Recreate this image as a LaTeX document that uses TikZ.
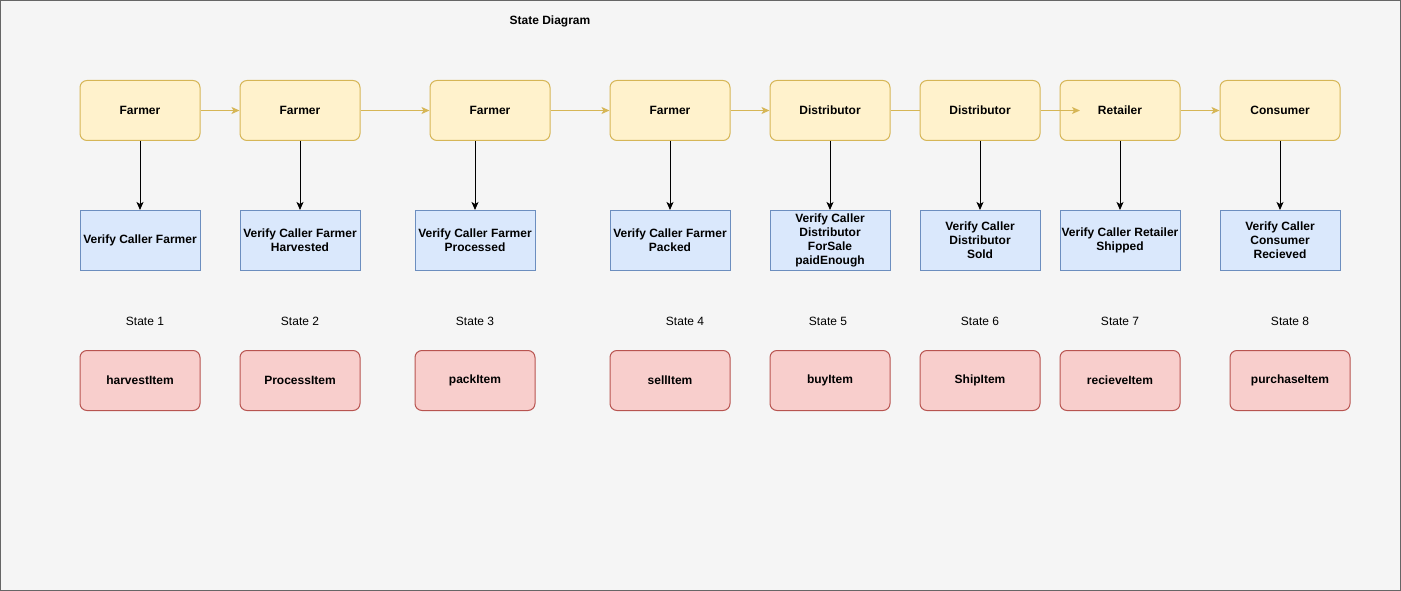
\documentclass[tikz,border=0pt]{standalone}
\usepackage{fontspec}
\setmainfont{Liberation Sans}
\usetikzlibrary{arrows.meta}
\definecolor{bggray}{HTML}{F5F5F5}
\definecolor{framegray}{HTML}{666666}
\definecolor{roleFill}{HTML}{FFF2CC}
\definecolor{roleLine}{HTML}{D6B656}
\definecolor{checkFill}{HTML}{DAE8FC}
\definecolor{checkLine}{HTML}{6C8EBF}
\definecolor{funcFill}{HTML}{F8CECC}
\definecolor{funcLine}{HTML}{B85450}
\begin{document}
\begin{tikzpicture}[x=1pt, y=-1pt, >={Stealth[length=8pt,width=7pt,inset=2pt]},
	role/.style={draw=roleLine, fill=roleFill, rounded corners=7pt, line width=1pt, minimum width=120pt, minimum height=60pt, font=\fontsize{12}{14}\selectfont\bfseries},
	check/.style={draw=checkLine, fill=checkFill, line width=1pt, minimum width=120pt, minimum height=60pt, inner sep=1pt, align=center, font=\fontsize{12}{14}\selectfont\bfseries},
	func/.style={draw=funcLine, fill=funcFill, rounded corners=7pt, line width=1pt, minimum width=120pt, minimum height=60pt, font=\fontsize{12}{14}\selectfont\bfseries},
	statelbl/.style={font=\fontsize{12}{14}\selectfont},
	flow/.style={->, roleLine, line width=1pt},
	verify/.style={->, black, line width=1pt}]
		
		\useasboundingbox (0,0) rectangle (1401,591);
		\filldraw[fill=bggray, draw=framegray, line width=1pt] (0.5,0.5) rectangle (1400.5,590.5);
		
		\node[font=\fontsize{12}{14}\selectfont\bfseries] (T) at (550,21) {State Diagram};
		
		% actors
		\node[role] (Y1) at (140,110.5) {Farmer};
		\node[role] (Y2) at (300,110.5) {Farmer};
		\node[role] (Y3) at (490,110.5) {Farmer};
		\node[role] (Y4) at (670,110.5) {Farmer};
		\node[role] (Y5) at (830,110.5) {Distributor};
		\node[role] (Y6) at (980,110.5) {Distributor};
		\node[role] (Y7) at (1120,110.5) {Retailer};
		\node[role] (Y8) at (1280,110.5) {Consumer};
		\coordinate (y7in) at (1080,110.5);
		
		% checks
		\node[check] (V1) at (140,240.5) {Verify Caller Farmer};
		\node[check] (V2) at (300,240.5) {Verify Caller Farmer\\Harvested};
		\node[check] (V3) at (475,240.5) {Verify Caller Farmer\\Processed};
		\node[check] (V4) at (670,240.5) {Verify Caller Farmer\\Packed};
		\node[check] (V5) at (830,240.5) {Verify Caller\\Distributor\\ForSale\\paidEnough};
		\node[check] (V6) at (980,240.5) {Verify Caller\\Distributor\\Sold};
		\node[check] (V7) at (1120,240.5) {Verify Caller Retailer\\Shipped};
		\node[check] (V8) at (1280,240.5) {Verify Caller\\Consumer\\Recieved};
		
		% states
		\node[statelbl] (S1) at (145,321.5) {State 1};
		\node[statelbl] (S2) at (300,321.5) {State 2};
		\node[statelbl] (S3) at (475,321.5) {State 3};
		\node[statelbl] (S4) at (685,321.5) {State 4};
		\node[statelbl] (S5) at (828,321.5) {State 5};
		\node[statelbl] (S6) at (980,321.5) {State 6};
		\node[statelbl] (S7) at (1120,321.5) {State 7};
		\node[statelbl] (S8) at (1290,321.5) {State 8};
		
		% functions
		\node[func] (R1) at (140,380.5) {harvestItem};
		\node[func] (R2) at (300,380.5) {ProcessItem};
		\node[func] (R3) at (475,380.5) {packItem};
		\node[func] (R4) at (670,380.5) {sellItem};
		\node[func] (R5) at (830,380.5) {buyItem};
		\node[func] (R6) at (980,380.5) {ShipItem};
		\node[func] (R7) at (1120,380.5) {recieveItem};
		\node[func] (R8) at (1290,380.5) {purchaseItem};
		
		\draw[flow] (Y1) -- (Y2);
		\draw[flow] (Y2) -- (Y3);
		\draw[flow] (Y3) -- (Y4);
		\draw[flow] (Y4) -- (Y5);
		\draw[roleLine, line width=1pt] (Y5) -- (Y6);
		\draw[flow] (Y6.east) -- (y7in);
		\draw[flow] (Y7) -- (Y8);
		
		\draw[verify] (Y1) -- (V1);
		\draw[verify] (Y2) -- (V2);
		\draw[verify] (Y3.south -| V3) -- (V3);
		\draw[verify] (Y4) -- (V4);
		\draw[verify] (Y5) -- (V5);
		\draw[verify] (Y6) -- (V6);
		\draw[verify] (Y7) -- (V7);
		\draw[verify] (Y8) -- (V8);
	\end{tikzpicture}
\end{document}
